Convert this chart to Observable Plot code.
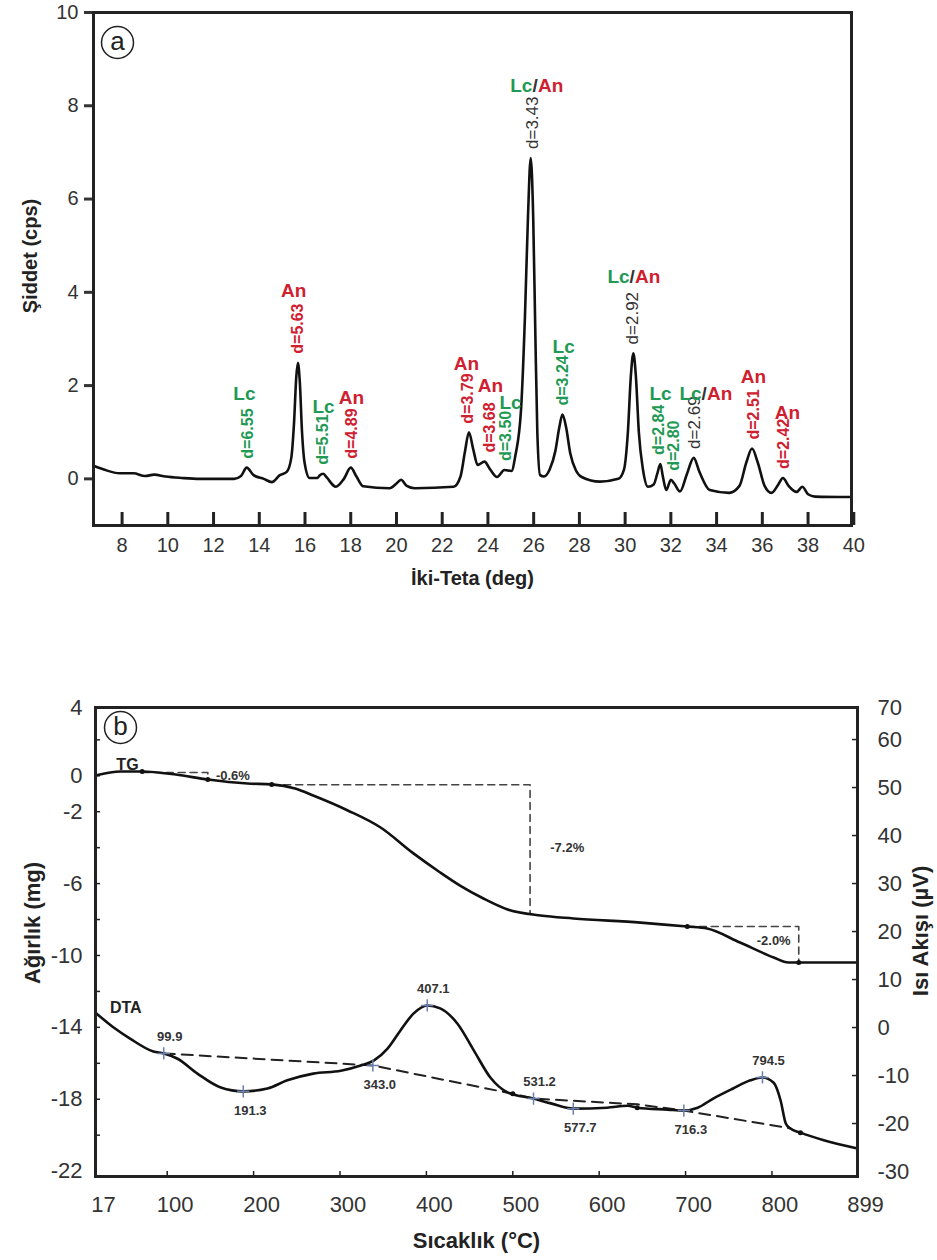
<!DOCTYPE html>
<html><head><meta charset="utf-8">
<script src="https://cdn.jsdelivr.net/npm/d3@7"></script>
<script src="https://cdn.jsdelivr.net/npm/@observablehq/plot@0.6"></script>
<style>
body{margin:0;background:#fff;}
#chart{width:937px;}
#chart svg{display:block;}
</style></head><body><div id="chart"></div>
<script>
// ---------- Panel (a): XRD pattern ----------
const xrdTheta = [6.75,7.2,7.9,8.5,9.0,9.4,9.9,10.6,11.4,12.9,13.2,13.45,13.75,14.2,14.55,14.9,15.2,15.4,15.52,15.62,15.69,15.77,15.87,15.98,16.2,16.55,16.65,16.8,16.95,17.35,17.7,18.0,18.25,18.55,19.7,20.0,20.2,20.45,20.8,22.5,22.8,23.0,23.17,23.35,23.55,23.85,24.1,24.4,24.72,25.03,25.2,25.45,25.62,25.75,25.87,25.98,26.07,26.16,26.28,26.45,26.7,26.95,27.12,27.26,27.42,27.6,27.85,28.1,28.9,29.7,29.95,30.12,30.25,30.36,30.47,30.6,30.78,31.0,31.25,31.4,31.54,31.65,31.8,32.0,32.15,32.4,32.7,33.0,33.25,33.7,34.55,35.0,35.3,35.55,35.8,36.1,36.4,36.7,36.9,37.15,37.5,37.75,38.0,38.3,39.9];
const xrdCps = [0.28,0.2,0.12,0.12,0.06,0.09,0.05,0.02,0.0,0.0,0.06,0.24,0.08,0.0,-0.07,0.08,0.15,0.45,1.2,2.2,2.49,2.1,1.0,0.35,0.02,0.02,0.08,0.11,0.03,-0.17,0.0,0.24,0.05,-0.16,-0.2,-0.1,-0.02,-0.15,-0.2,-0.17,0.05,0.6,1.0,0.65,0.3,0.37,0.2,0.04,0.19,0.17,0.5,1.5,3.5,5.6,6.88,5.6,3.2,1.0,0.08,0.05,0.2,0.6,1.1,1.38,1.1,0.55,0.18,0.04,-0.06,0.0,0.2,1.0,2.2,2.69,2.2,1.0,0.2,-0.17,-0.12,0.1,0.32,0.05,-0.24,-0.02,-0.1,-0.27,0.1,0.45,0.15,-0.24,-0.3,-0.15,0.35,0.65,0.35,-0.15,-0.3,-0.12,0.02,-0.15,-0.28,-0.17,-0.33,-0.38,-0.39];

// peak annotations: where the d-label sits (peak top) and where the phase name sits
const peakTheta = [13.50,15.69,16.78,18.04,23.12,24.07,24.77,25.95,27.26,30.31,31.49,32.15,33.02,35.64,36.95];
const peakCps   = [0.24,2.49,0.11,0.24,0.99,0.37,0.19,6.88,1.38,2.69,0.32,-0.02,0.45,0.65,0.02];
const peakPhase = ["Lc","An","Lc","An","An","An","Lc","Lc/An","Lc","Lc/An","Lc","Lc","Lc/An","An","An"];
const peakD     = ["6.55","5.63","5.51","4.89","3.79","3.68","3.50","3.43","3.24","2.92","2.84","2.80","2.69","2.51","2.42"];
const peakNamed = [true,true,true,true,true,true,true,true,true,true,true,false,true,true,true];
const peakNameTheta = [13.35,15.50,16.81,18.03,23.06,24.11,24.99,26.12,27.31,30.37,31.55,null,33.52,35.61,37.10];
const peakNameCps   = [1.83,4.04,1.55,1.74,2.47,2.00,1.62,8.43,2.82,4.32,1.83,null,1.83,2.19,1.42];

const thetaTicks = [8,10,12,14,16,18,20,22,24,26,28,30,32,34,36,38,40];
const cpsTicks = [0,2,4,6,8,10];

// ---------- Panel (b): TG / DTA ----------
const tgTemp = [17,46,71,110,147,193,221,248,269,309,347,385,416,439,466,494,532,570,648,702,725,763,802,819,831,899];
const tgMass = [0.02,0.24,0.24,0.07,-0.21,-0.43,-0.48,-0.71,-1.10,-1.93,-2.88,-4.32,-5.38,-6.11,-6.83,-7.44,-7.78,-7.94,-8.17,-8.39,-8.50,-9.28,-10.11,-10.39,-10.39,-10.39];

const tgMarkTemp = [71,147,221,702,831];
const tgMarkMass = [0.24,-0.21,-0.48,-8.39,-10.39];

const tgStepStart = [71,221,702];
const tgStepEnd = [147,520,831];
const tgStepTop = [0.18,-0.5,-8.39];
const tgStepBottom = [-0.21,-7.66,-10.39];
const tgStepLabel = ["-0.6%","-7.2%","-2.0%"];
const tgStepLabelTemp = [176,563,802];
const tgStepLabelMass = [0.02,-3.99,-9.17];

const dtaTemp = [17,38,57,84,96,112,135,162,188,216,239,269,301,324,339,355,370,385,401,416,436,455,474,494,524,544,570,609,633,644,679,698,714,732,755,775,789,802,810,816,821,833,860,899];
const dtaFlow = [3.1,0.0,-2.3,-5.0,-5.4,-6.5,-9.6,-12.5,-13.3,-12.7,-11.0,-9.6,-9.0,-7.9,-6.9,-4.4,-0.6,2.9,4.6,4.0,0.8,-4.8,-10.4,-13.5,-14.8,-15.8,-16.9,-16.7,-16.3,-16.7,-17.1,-17.3,-16.7,-14.8,-12.7,-11.0,-10.4,-11.5,-15.2,-20.0,-21.0,-21.9,-23.5,-25.2];

const dtaBaseTemp = [96,338,500,524,644,698,821];
const dtaBaseFlow = [-5.4,-7.9,-13.8,-14.8,-16.0,-17.3,-21.0];

const dtaEventTemp = [96,188,338,401,524,570,698,789];
const dtaEventFlow = [-5.4,-13.3,-7.9,4.6,-14.8,-16.9,-17.3,-10.4];
const dtaEventLabel = ["99.9","191.3","343.0","407.1","531.2","577.7","716.3","794.5"];
const dtaEventSide = ["above","below","below","above","above","below","below","above"];

const dtaDotTemp = [500,644,833];
const dtaDotFlow = [-13.8,-16.7,-21.9];

const massLabels = [4,0,-2,-6,-10,-14,-18,-22];
const massTicks = [2,0,-2,-4,-6,-8,-10,-12,-14,-16,-18,-20];
const flowLabels = [70,60,50,40,30,20,10,0,-10,-20,-30];
const flowTicks = [60,50,40,30,20,10,0,-10,-20];
const tempLabels = [17,100,200,300,400,500,600,700,800,899];
const tempTicks = [100,200,300,400,500,600,700,800];

// ---------- styling ----------
const FONT = "'Liberation Sans', Arial, Helvetica, sans-serif";
const GREEN = "#1f9a55";
const RED = "#cf2030";
const INK = "#222";
const TXT = "#333";

const R0 = -14.01, RK = 0.2671;
const toMg = v => R0 + RK * v;

// ---------- build tables ----------
const xrd = xrdTheta.map((t, i) => ({t, c: xrdCps[i]}));
const peaks = peakTheta.map((t, i) => ({t, c: peakCps[i], phase: peakPhase[i], d: peakD[i]}));
const names = peakTheta.map((t, i) => ({t: peakNameTheta[i], c: peakNameCps[i], phase: peakPhase[i], named: peakNamed[i]})).filter(n => n.named);

const tg = tgTemp.map((T, i) => ({T, m: tgMass[i]}));
const tgMarks = tgMarkTemp.map((T, i) => ({T, m: tgMarkMass[i]}));
const tgSteps = [];
tgStepStart.forEach((s, i) => {
  tgSteps.push({T: s, m: tgStepTop[i], k: i});
  tgSteps.push({T: tgStepEnd[i], m: tgStepTop[i], k: i});
  tgSteps.push({T: tgStepEnd[i], m: tgStepBottom[i], k: i});
});
const tgStepLabels = tgStepLabel.map((s, i) => ({s, T: tgStepLabelTemp[i], m: tgStepLabelMass[i]}));

const dta = dtaTemp.map((T, i) => ({T, m: toMg(dtaFlow[i])}));
const dtaBase = dtaBaseTemp.map((T, i) => ({T, m: toMg(dtaBaseFlow[i])}));
const dtaEvents = dtaEventTemp.map((T, i) => ({T, m: toMg(dtaEventFlow[i]), s: dtaEventLabel[i], side: dtaEventSide[i]}));
const dtaDots = dtaDotTemp.map((T, i) => ({T, m: toMg(dtaDotFlow[i])}));

// ---------- panel a ----------
const wA = 937, hA = 600, mlA = 93, mrA = 86, mtA = 12, mbA = 75;
const innerHA = hA - mtA - mbA;

const combo = peaks.filter(p => p.phase === "Lc/An");
const comboNames = names.filter(p => p.phase === "Lc/An");
const plotA = Plot.plot({
  width: wA, height: hA,
  marginLeft: mlA, marginRight: mrA, marginTop: mtA, marginBottom: mbA,
  style: {fontFamily: FONT, fontSize: "20px", color: TXT, background: "white"},
  x: {domain: [6.75, 39.9]},
  y: {domain: [-1, 10]},
  marks: [
    Plot.axisX({ticks: thetaTicks, tickSize: 0, tickPadding: 12, fontSize: 20, label: null, tickFormat: d => String(d)}),
    Plot.tickX(thetaTicks, {x: d => d, insetTop: innerHA - 13, strokeWidth: 3, stroke: INK}),
    Plot.axisY({ticks: cpsTicks, tickSize: 9, tickPadding: 6, strokeWidth: 3, fontSize: 20, label: null, tickFormat: d => String(d)}),
    Plot.line(xrd, {x: "t", y: "c", curve: "monotone-x", stroke: "#111", strokeWidth: 2.6}),
    // d-spacing labels
    Plot.text(peaks.filter(p => p.phase === "Lc"), {x: "t", y: "c", text: p => "d=" + p.d, rotate: -90, textAnchor: "start", lineAnchor: "middle", dy: -9, fill: GREEN, fontWeight: "bold", fontSize: 16}),
    Plot.text(peaks.filter(p => p.phase === "An"), {x: "t", y: "c", text: p => "d=" + p.d, rotate: -90, textAnchor: "start", lineAnchor: "middle", dy: -9, fill: RED, fontWeight: "bold", fontSize: 16}),
    Plot.text(combo, {x: "t", y: "c", text: p => "d=" + p.d, rotate: -90, textAnchor: "start", lineAnchor: "middle", dy: -9, fill: TXT, fontSize: 17}),
    // phase names
    Plot.text(names.filter(p => p.phase === "Lc"), {x: "t", y: "c", text: "phase", lineAnchor: "middle", fill: GREEN, fontWeight: "bold", fontSize: 19}),
    Plot.text(names.filter(p => p.phase === "An"), {x: "t", y: "c", text: "phase", lineAnchor: "middle", fill: RED, fontWeight: "bold", fontSize: 19}),
    Plot.text(comboNames, {x: "t", y: "c", text: () => "Lc", textAnchor: "end", dx: -4, lineAnchor: "middle", fill: GREEN, fontWeight: "bold", fontSize: 19}),
    Plot.text(comboNames, {x: "t", y: "c", text: () => "/", textAnchor: "start", dx: -4, lineAnchor: "middle", fill: TXT, fontWeight: "bold", fontSize: 19}),
    Plot.text(comboNames, {x: "t", y: "c", text: () => "An", textAnchor: "start", dx: 1.5, lineAnchor: "middle", fill: RED, fontWeight: "bold", fontSize: 19}),
    // panel letter
    Plot.dot([0], {frameAnchor: "top-left", dx: 24, dy: 30, r: 16, stroke: INK, strokeWidth: 1.5, fill: "none"}),
    Plot.text(["a"], {text: d => d, frameAnchor: "top-left", dx: 24, dy: 29, textAnchor: "middle", lineAnchor: "middle", fontSize: 26, fill: INK}),
    // axis titles
    Plot.text(["Şiddet (cps)"], {text: d => d, frameAnchor: "left", dx: -63, dy: -13, rotate: -90, textAnchor: "middle", lineAnchor: "middle", fontWeight: "bold", fontSize: 20, fill: INK}),
    Plot.text(["İki-Teta (deg)"], {text: d => d, frameAnchor: "bottom", dy: 53, textAnchor: "middle", lineAnchor: "middle", fontWeight: "bold", fontSize: 20, fill: INK}),
    Plot.frame({stroke: INK, strokeWidth: 3})
  ]
});

// ---------- panel b ----------
const wB = 937, hB = 660, mlB = 95, mrB = 80, mtB = 107, mbB = 84;
const innerWB = wB - mlB - mrB, innerHB = hB - mtB - mbB;

const plotB = Plot.plot({
  width: wB, height: hB,
  marginLeft: mlB, marginRight: mrB, marginTop: mtB, marginBottom: mbB,
  style: {fontFamily: FONT, fontSize: "22px", color: TXT, background: "white"},
  x: {domain: [17, 899]},
  y: {domain: [-22.3, 3.8], clamp: true},
  marks: [
    Plot.axisX({ticks: tempLabels, tickSize: 0, tickPadding: 20, dx: 8, fontSize: 22, label: null, tickFormat: d => String(d)}),
    Plot.tickX(tempTicks, {x: d => d, insetTop: innerHB - 5, strokeWidth: 1.5, stroke: INK}),
    Plot.axisY({anchor: "left", ticks: massLabels, tickSize: 0, tickPadding: 13, fontSize: 22, label: null, tickFormat: d => String(d)}),
    Plot.tickY(massTicks, {y: d => d, insetRight: innerWB - 5, strokeWidth: 1.5, stroke: INK}),
    Plot.axisY({anchor: "right", ticks: flowLabels.map(toMg), tickSize: 0, tickPadding: 20, fontSize: 22, label: null, tickFormat: d => String(Math.round((d - R0) / RK))}),
    Plot.tickY(flowTicks.map(toMg), {y: d => d, insetLeft: innerWB - 5, strokeWidth: 1.5, stroke: INK}),
    // TG
    Plot.line(tgSteps, {x: "T", y: "m", z: "k", stroke: "#444", strokeWidth: 1.6, strokeDasharray: "7,5"}),
    Plot.line(tg, {x: "T", y: "m", curve: "monotone-x", stroke: "#111", strokeWidth: 2.6}),
    Plot.dot(tgMarks, {x: "T", y: "m", r: 2.5, fill: "#111"}),
    Plot.text(tgStepLabels, {x: "T", y: "m", text: "s", fontWeight: "bold", fontSize: 13, fill: TXT}),
    Plot.text(["TG"], {text: d => d, x: () => 54, y: () => 0.63, fontWeight: "bold", fontSize: 16, fill: INK}),
    // DTA
    Plot.line(dtaBase, {x: "T", y: "m", stroke: "#222", strokeWidth: 2, strokeDasharray: "11,7"}),
    Plot.line(dta, {x: "T", y: "m", curve: "monotone-x", stroke: "#111", strokeWidth: 2.6}),
    Plot.dot(dtaDots, {x: "T", y: "m", r: 2.5, fill: "#111"}),
    Plot.dot(dtaEvents, {x: "T", y: "m", symbol: "plus", r: 4, stroke: "#6b7fae", strokeWidth: 1.5}),
    Plot.text(dtaEvents.filter(e => e.side === "above"), {x: "T", y: "m", text: "s", dx: 6, dy: -17, fontWeight: "bold", fontSize: 13, fill: TXT}),
    Plot.text(dtaEvents.filter(e => e.side === "below"), {x: "T", y: "m", text: "s", dx: 7, dy: 19, fontWeight: "bold", fontSize: 13, fill: TXT}),
    Plot.text(["DTA"], {text: d => d, x: () => 52, y: () => toMg(4.2), fontWeight: "bold", fontSize: 16, fill: INK}),
    // panel letter
    Plot.dot([0], {frameAnchor: "top-left", dx: 25, dy: 20, r: 16, stroke: INK, strokeWidth: 1.5, fill: "none"}),
    Plot.text(["b"], {text: d => d, frameAnchor: "top-left", dx: 25, dy: 19, textAnchor: "middle", lineAnchor: "middle", fontSize: 26, fill: INK}),
    // axis titles
    Plot.text(["Ağırlık (mg)"], {text: d => d, frameAnchor: "left", dx: -63, dy: -19, rotate: -90, textAnchor: "middle", lineAnchor: "middle", fontWeight: "bold", fontSize: 22, fill: INK}),
    Plot.text(["Isı Akışı (µV)"], {text: d => d, frameAnchor: "right", dx: 63, dy: -11, rotate: -90, textAnchor: "middle", lineAnchor: "middle", fontWeight: "bold", fontSize: 22, fill: INK}),
    Plot.text(["Sıcaklık (°C)"], {text: d => d, frameAnchor: "bottom", dy: 64, textAnchor: "middle", lineAnchor: "middle", fontWeight: "bold", fontSize: 22, fill: INK}),
    Plot.frame({stroke: INK, strokeWidth: 3})
  ]
});

const root = document.getElementById("chart");
root.appendChild(plotA);
root.appendChild(plotB);
</script>
</body></html>
